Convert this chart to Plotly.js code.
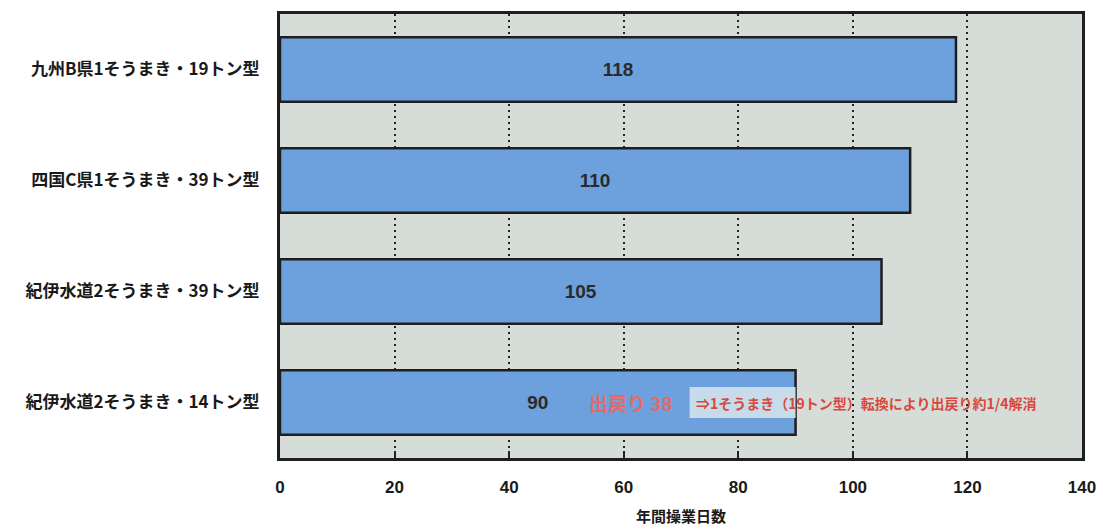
<!DOCTYPE html>
<html>
<head>
<meta charset="utf-8">
<script src="https://cdn.plot.ly/plotly-3.0.1.min.js"></script>
<style>html,body{margin:0;padding:0;background:#fff;}#chart{width:1103px;height:531px;}</style>
</head>
<body>
<div id="chart"></div>
<script>
const categories = ["九州B県1そうまき・19トン型", "四国C県1そうまき・39トン型", "紀伊水道2そうまき・39トン型", "紀伊水道2そうまき・14トン型"];
const days = [118, 110, 105, 90];
const xTicks = [0, 20, 40, 60, 80, 100, 120, 140];
const noteLabel = "出戻り 38";
const noteText = "⇒1そうまき（19トン型）転換により出戻り約1/4解消";
const xTitle = "年間操業日数";

const cjk = '"Noto Sans CJK JP", "Liberation Sans", sans-serif';
const narrow = '"Liberation Sans Narrow", "Liberation Sans", Arial, sans-serif';

const trace = {
  type: 'bar',
  orientation: 'h',
  y: categories,
  x: days,
  width: 0.58,
  marker: {color: '#6ca1dd', line: {color: '#1e1e1e', width: 2.5}},
  text: days.map(String),
  textposition: 'inside',
  insidetextanchor: 'middle',
  textangle: 0,
  textfont: {family: '"Liberation Sans", Arial, sans-serif', size: 19, color: '#2a2a2a', weight: 'bold'},
  hoverinfo: 'none'
};

const last = categories[categories.length - 1];
const lastVal = days[days.length - 1];

const layout = {
  width: 1103, height: 531,
  margin: {l: 280, r: 21, t: 14, b: 73},
  paper_bgcolor: '#ffffff',
  plot_bgcolor: '#d6ddd8',
  showlegend: false,
  xaxis: {
    range: [0, 140],
    tickvals: xTicks,
    ticktext: xTicks.map(String),
    showgrid: true,
    gridcolor: '#222',
    griddash: '2px,4px',
    gridwidth: 2,
    zeroline: false,
    ticks: 'inside', ticklen: 7, tickwidth: 2, tickcolor: '#222',
    showline: true, linecolor: '#1e1e1e', linewidth: 3, mirror: true,
    tickfont: {family: narrow, size: 17, color: '#1a1a1a', weight: 'bold'},
    ticklabelstandoff: 12,
    title: {text: xTitle, font: {family: cjk, size: 15, color: '#1a1a1a', weight: 'bold'}, standoff: 16},
    fixedrange: true
  },
  yaxis: {
    type: 'category',
    categoryorder: 'array',
    categoryarray: categories,
    autorange: 'reversed',
    showgrid: false,
    showline: true, linecolor: '#1e1e1e', linewidth: 3, mirror: true,
    ticks: '',
    tickfont: {family: cjk, size: 17, color: '#1a1a1a', weight: 'bold'},
    ticklabelstandoff: 14,
    fixedrange: true
  },
  shapes: [{
    type: 'rect', xref: 'x', yref: 'y',
    x0: 71.5, x1: lastVal, y0: 3 - 0.14, y1: 3 + 0.14,
    fillcolor: '#c7dbea', line: {width: 0}, layer: 'above'
  }],
  annotations: [
    {x: 61.2, y: last, xref: 'x', yref: 'y', text: noteLabel, showarrow: false,
     font: {family: cjk, size: 19, color: '#e46a6a', weight: 'bold'}, xanchor: 'center'},
    {x: 72.2, y: last, xref: 'x', yref: 'y', text: noteText, showarrow: false,
     font: {family: cjk, size: 14, color: '#d8483c', weight: 'bold'}, xanchor: 'left'}
  ]
};

Plotly.newPlot('chart', [trace], layout, {displayModeBar: false, staticPlot: true});
</script>
</body>
</html>
